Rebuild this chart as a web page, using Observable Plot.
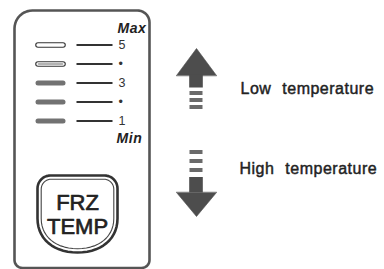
<!DOCTYPE html>
<html><head><meta charset="utf-8">
<script src="https://cdn.jsdelivr.net/npm/d3@7"></script>
<script src="https://cdn.jsdelivr.net/npm/@observablehq/plot@0.6"></script>
<style>html,body{margin:0;padding:0;background:#fff;overflow:hidden;}</style>
</head><body><div id="chart"></div>
<script>
// ---- data ----
const levels = [5, 4, 3, 2, 1];
const levelLabels = ["5", "•", "3", "•", "1"];
const levelStates = ["empty", "half", "full", "full", "full"];
const rangeLabels = ["Max", "Min"];
const buttonLines = ["FRZ", "TEMP"];
const arrowLabels = ["Low temperature", "High temperature"];
const arrowDirections = ["up", "down"];

// ---- layout (pixels) ----
const W = 384, H = 269;
const ROW_TOP = 44.5, ROW_STEP = 19;           // pixel position of level 5, spacing
const py = p => levels[0] - (p - ROW_TOP) / ROW_STEP; // pixel -> level units
const FONT = "'Liberation Sans', Arial, Helvetica, sans-serif";

const rows = levels.map((level, i) => ({level, label: levelLabels[i], state: levelStates[i]}));

function arc(pts, cx, cy, R, a0, a1, n = 10) {
  for (let k = 0; k <= n; k++) {
    const a = (a0 + (a1 - a0) * k / n) * Math.PI / 180;
    pts.push({x: cx + R * Math.cos(a), y: cy + R * Math.sin(a)});
  }
}
function cubic(pts, p0, c1, c2, p1, n = 14) {
  for (let k = 1; k <= n; k++) {
    const t = k / n, u = 1 - t;
    pts.push({
      x: u*u*u*p0[0] + 3*u*u*t*c1[0] + 3*u*t*t*c2[0] + t*t*t*p1[0],
      y: u*u*u*p0[1] + 3*u*u*t*c1[1] + 3*u*t*t*c2[1] + t*t*t*p1[1]
    });
  }
}
function roundedRect(l, t, r, b, rad) {
  const pts = [];
  arc(pts, l + rad[0], t + rad[0], rad[0], 180, 270);
  arc(pts, r - rad[1], t + rad[1], rad[1], 270, 360);
  arc(pts, r - rad[2], b - rad[2], rad[2], 0, 90);
  arc(pts, l + rad[3], b - rad[3], rad[3], 90, 180);
  return pts.map(p => ({x: p.x, y: py(p.y)}));
}
function shield(cx, hw, top, r, sideBottom, bottom) {
  const pts = [], l = cx - hw, rr = cx + hw;
  arc(pts, l + r, top + r, r, 180, 270);
  arc(pts, rr - r, top + r, r, 270, 360);
  pts.push({x: rr, y: sideBottom});
  cubic(pts, [rr, sideBottom], [rr, sideBottom + (bottom - sideBottom) * 0.6], [cx + hw * 0.6, bottom], [cx, bottom]);
  cubic(pts, [cx, bottom], [cx - hw * 0.6, bottom], [l, sideBottom + (bottom - sideBottom) * 0.6], [l, sideBottom]);
  return pts.map(p => ({x: p.x, y: py(p.y)}));
}

const frame = roundedRect(14, 10, 149, 267.5, [18, 12, 8, 8]);
const shieldOuter = shield(77, 40, 175, 13, 218, 252);
const shieldInner = shield(77, 36.3, 178.7, 10, 218, 248.2);

// arrows: head triangle, shaft, dashes (built from direction)
const arrowHeads = [], arrowBars = [];
const arrowTable = arrowLabels.map((label, i) => {
  const dir = arrowDirections[i];
  const cx = 196;
  if (dir === "up") {
    [[176, 75], [196, 48], [216, 75]].forEach(([x, y]) => arrowHeads.push({id: i, x, y: py(y)}));
    arrowBars.push({x1: cx - 6.8, x2: cx + 6.8, y1: py(74.5), y2: py(87.5), shade: "#4d4d4d"});
    [[91, 95], [98, 102], [105, 109]].forEach(([a, b]) => arrowBars.push({x1: cx - 6.5, x2: cx + 6.5, y1: py(a), y2: py(b), shade: "#6a6a6a"}));
    return {label, x: 240, y: py(93)};
  } else {
    [[176, 192], [196, 216], [216, 192]].forEach(([x, y]) => arrowHeads.push({id: i, x, y: py(y)}));
    arrowBars.push({x1: cx - 6.8, x2: cx + 6.8, y1: py(177), y2: py(192.5), shade: "#4d4d4d"});
    [[150, 154], [159, 163], [168, 172]].forEach(([a, b]) => arrowBars.push({x1: cx - 6.5, x2: cx + 6.5, y1: py(a), y2: py(b), shade: "#6a6a6a"}));
    return {label, x: 239, y: py(173)};
  }
});

const rangeTable = [
  {text: rangeLabels[0], x: 146, y: py(32)},
  {text: rangeLabels[1], x: 142, y: py(142)}
];
const buttonTable = buttonLines.map((t, i) => ({text: t, x: 77, y: py(209.5 + i * 24)}));

const chart = Plot.plot({
  width: W, height: H, margin: 0,
  x: {type: "linear", domain: [0, W], range: [0, W], axis: null},
  y: {type: "linear", domain: [levels[0], levels[levels.length - 1]], range: [ROW_TOP, ROW_TOP + ROW_STEP * (levels.length - 1)], axis: null},
  style: {background: "#fff"},
  marks: [
    // panel frame
    Plot.line(frame, {x: "x", y: "y", stroke: "#555", strokeWidth: 2.6, curve: "linear-closed"}),
    // indicator pills
    Plot.link(rows.filter(d => d.state !== "full"), {x1: 37.5, x2: 62.5, y1: "level", y2: "level", stroke: "#333", strokeWidth: 5.6, strokeLinecap: "round"}),
    Plot.link(rows.filter(d => d.state !== "full"), {x1: 37.5, x2: 62.5, y1: "level", y2: "level", stroke: "#fff", strokeWidth: 3.4, strokeLinecap: "round"}),
    Plot.link(rows.filter(d => d.state === "half"), {x1: 38, x2: 62, y1: "level", y2: "level", stroke: "#9a9a9a", strokeWidth: 1.6, strokeLinecap: "round"}),
    Plot.link(rows.filter(d => d.state === "full"), {x1: 37.5, x2: 62.5, y1: "level", y2: "level", stroke: "#727272", strokeWidth: 5, strokeLinecap: "round"}),
    // level lines
    Plot.link(rows, {x1: 76, x2: 112, y1: "level", y2: "level", stroke: "#333", strokeWidth: 1.8}),
    // level labels
    Plot.text(rows, {x: 118, y: "level", text: "label", textAnchor: "start", fontSize: 12.5, fontFamily: FONT, fill: "#333"}),
    // Max / Min
    Plot.text(rangeTable, {x: "x", y: "y", text: "text", textAnchor: "end", lineAnchor: "bottom", fontSize: 14, fontWeight: "bold", fontStyle: "italic", fontFamily: FONT, fill: "#222"}),
    // button
    Plot.line(shieldOuter, {x: "x", y: "y", stroke: "#333", strokeWidth: 2.6, fill: "#fff", curve: "linear-closed"}),
    Plot.line(shieldInner, {x: "x", y: "y", stroke: "#444", strokeWidth: 1.1, curve: "linear-closed"}),
    Plot.text(buttonTable, {x: "x", y: "y", text: "text", textAnchor: "middle", lineAnchor: "bottom", fontSize: 22, fontFamily: FONT, fill: "#222", stroke: "#222", strokeWidth: 0.7}),
    // arrows
    Plot.line(arrowHeads, {x: "x", y: "y", z: "id", fill: "#4d4d4d", stroke: "#4d4d4d", strokeWidth: 0.6, curve: "linear-closed"}),
    Plot.rect(arrowBars, {x1: "x1", x2: "x2", y1: "y1", y2: "y2", fill: "shade"}),
    Plot.text(arrowTable, {x: "x", y: "y", text: "label", textAnchor: "start", lineAnchor: "bottom", fontSize: 16, fontFamily: FONT, fill: "#222", stroke: "#222", strokeWidth: 0.45})
  ]
});

d3.select(chart).selectAll("text")
  .filter(function () { return arrowLabels.includes(this.textContent); })
  .style("letter-spacing", "0.5px").style("word-spacing", "6px");
d3.select(chart).selectAll("text")
  .filter(function () { return rangeLabels.includes(this.textContent); })
  .style("letter-spacing", "0.6px");
document.getElementById("chart").appendChild(chart);
</script>
</body></html>
